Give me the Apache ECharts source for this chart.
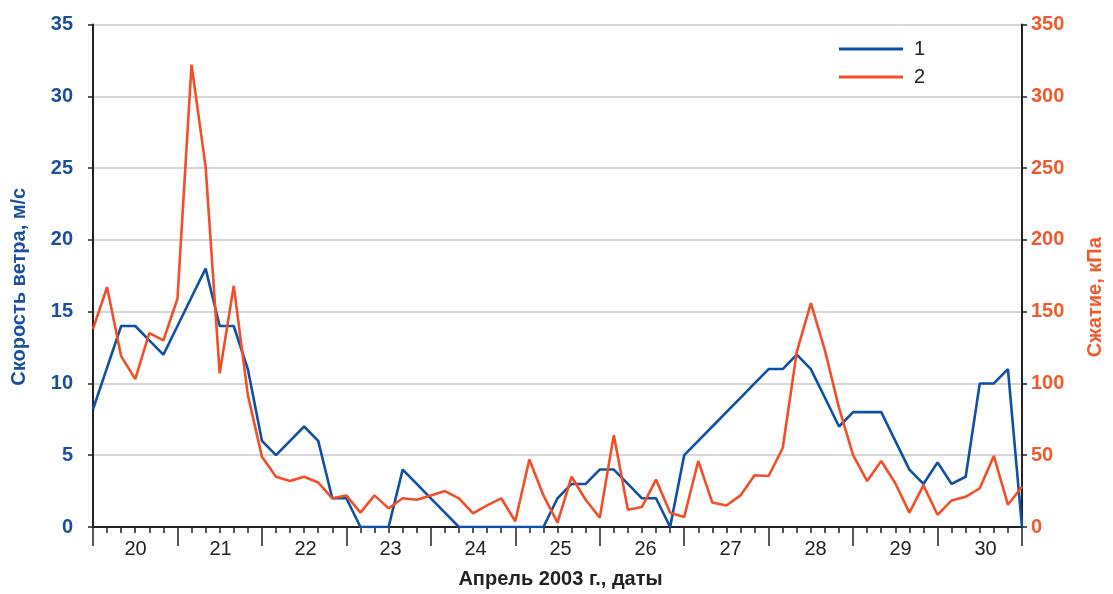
<!DOCTYPE html>
<html>
<head>
<meta charset="utf-8">
<script src="https://cdn.jsdelivr.net/npm/echarts@6/dist/echarts.min.js"></script>
<style>
html,body{margin:0;padding:0;background:#fff;}
#chart{width:1113px;height:594px;}
</style>
</head>
<body>
<div id="chart"></div>
<script>
// Day labels (each day = 6 steps of 4 hours)
const dayLabels = ['20','21','22','23','24','25','26','27','28','29','30'];

// Series 1: wind speed, m/s (every 4 hours)
const windSpeed = [
  8.2, 11.1, 14, 14, 13, 12, 14, 16, 18, 14, 14, 11,
  6, 5, 6, 7, 6, 2, 2, 0, 0, 0, 4, 3,
  2, 1, 0, 0, 0, 0, 0, 0, 0, 2, 3, 3,
  4, 4, 3, 2, 2, 0, 5, 6, 7, 8, 9, 10,
  11, 11, 12, 11, 9, 7, 8, 8, 8, 6, 4, 3,
  4.5, 3, 3.5, 10, 10, 11, 0
];

// Series 2: compression, kPa (every 4 hours)
const compression = [
  138, 167, 119, 103, 135, 130, 159, 322, 251, 107, 168, 92,
  49, 35, 32, 35, 31, 20, 22, 10, 22, 13, 20, 19,
  22, 25, 20, 9.5, 15, 20, 4, 47, 22, 3, 35, 19,
  6.5, 64, 12, 14, 33, 10, 7, 46, 17, 15, 22, 36,
  35.5, 55, 122, 156, 123, 83, 50, 32, 46, 30.5, 10, 29,
  8.5, 18.5, 21, 27, 49.5, 15.5, 28
];

const seriesNames = ['1', '2'];

const BLUE = '#0f4fa6';
const BLUE_TXT = '#1a4f9e';
const RED = '#f24e28';
const RED_TXT = '#f15a2b';
const FONT = 'Liberation Sans, Arial, sans-serif';

const steps = windSpeed.length - 1;
const gridRect = {left: 93, right: 85, top: 24.5, bottom: 67};

const chart = echarts.init(document.getElementById('chart'), null, {renderer: 'canvas'});
chart.setOption({
  animation: false,
  backgroundColor: '#fff',
  textStyle: {fontFamily: FONT},
  grid: [
    Object.assign({containLabel: false}, gridRect),
    Object.assign({containLabel: false}, gridRect)
  ],
  legend: {
    data: seriesNames,
    orient: 'vertical',
    left: 834,
    top: 34,
    icon: 'rect',
    itemWidth: 64,
    itemHeight: 3,
    itemGap: 8,
    textStyle: {fontSize: 20, color: '#222', fontFamily: FONT, padding: [0, 0, 0, 6]}
  },
  xAxis: [
    {
      type: 'value', gridIndex: 0, min: 0, max: steps, interval: 6,
      axisLine: {show: true, onZero: false, lineStyle: {color: '#222', width: 2}},
      axisTick: {show: true, length: 19, lineStyle: {color: '#222', width: 1.5}},
      minorTick: {show: true, splitNumber: 6, length: 6, lineStyle: {color: '#222', width: 1.5}},
      axisLabel: {show: false},
      splitLine: {show: false},
      minorSplitLine: {show: false}
    },
    {
      type: 'category', gridIndex: 1, data: dayLabels, boundaryGap: true,
      axisLine: {show: false}, axisTick: {show: false},
      axisLabel: {show: true, interval: 0, margin: 20, fontSize: 20, color: '#222', fontFamily: FONT},
      name: 'Апрель 2003 г., даты',
      nameLocation: 'middle', nameGap: 50,
      nameTextStyle: {fontSize: 20, fontWeight: 'bold', color: '#222', fontFamily: FONT}
    }
  ],
  yAxis: [
    {
      type: 'value', gridIndex: 0, position: 'left', min: 0, max: 35, interval: 5,
      axisLine: {show: true, onZero: false, lineStyle: {color: '#222', width: 2}},
      axisTick: {show: true, length: 5, lineStyle: {color: '#222', width: 1.5}},
      axisLabel: {margin: 20, fontSize: 20, fontWeight: 'bold', color: BLUE_TXT, fontFamily: FONT},
      splitLine: {show: true, lineStyle: {color: '#c8c8c8', width: 1.5}},
      name: 'Скорость ветра, м/с',
      nameLocation: 'middle', nameRotate: 90, nameGap: 64,
      nameTextStyle: {fontSize: 20, fontWeight: 'bold', color: BLUE_TXT, fontFamily: FONT, padding: [0, 22, 0, 0]}
    },
    {
      type: 'value', gridIndex: 0, position: 'right', min: 0, max: 350, interval: 50,
      axisLine: {show: true, onZero: false, lineStyle: {color: '#222', width: 2}},
      axisTick: {show: true, length: 5, lineStyle: {color: '#222', width: 1.5}},
      axisLabel: {margin: 9, fontSize: 20, fontWeight: 'bold', color: RED_TXT, fontFamily: FONT},
      splitLine: {show: false},
      name: 'Сжатие, кПа',
      nameLocation: 'middle', nameRotate: 90, nameGap: 63,
      nameTextStyle: {fontSize: 20, fontWeight: 'bold', color: RED_TXT, fontFamily: FONT, padding: [0, 43, 0, 0]}
    },
    {
      type: 'value', gridIndex: 1, show: false, min: 0, max: 1
    }
  ],
  series: [
    {
      name: seriesNames[0], type: 'line', xAxisIndex: 0, yAxisIndex: 0,
      showSymbol: false, symbol: 'none',
      lineStyle: {color: BLUE, width: 2.6}, itemStyle: {color: BLUE},
      data: windSpeed.map((v, i) => [i, v])
    },
    {
      name: seriesNames[1], type: 'line', xAxisIndex: 0, yAxisIndex: 1,
      showSymbol: false, symbol: 'none',
      lineStyle: {color: RED, width: 2.6}, itemStyle: {color: RED},
      data: compression.map((v, i) => [i, v])
    }
  ]
});
</script>
</body>
</html>
